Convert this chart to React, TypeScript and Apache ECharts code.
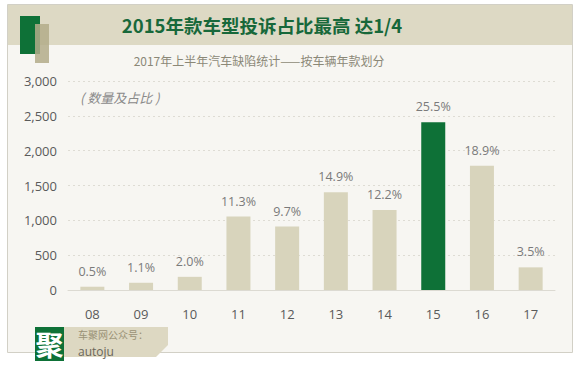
import React, { useEffect, useRef } from "react";
import * as echarts from "echarts";

const categories = ["08", "09", "10", "11", "12", "13", "14", "15", "16", "17"];
const counts = [47, 104, 189, 1055, 910, 1402, 1150, 2407, 1782, 325];
const shares = ["0.5%", "1.1%", "2.0%", "11.3%", "9.7%", "14.9%", "12.2%", "25.5%", "18.9%", "3.5%"];
const highlightIndex = 7;
const title = "2015年款车型投诉占比最高 达1/4";
const subtitle = "2017年上半年汽车缺陷统计——按车辆年款划分";
const unitNote = "( 数量及占比 )";

const GREEN = "#0e7137";
const TAN = "#d8d4bc";

export default function App() {
  const ref = useRef<HTMLDivElement>(null);
  useEffect(() => {
    if (!ref.current) return;
    const chart = echarts.init(ref.current, null, { renderer: "svg" });
    chart.setOption({
      animation: false,
      backgroundColor: "#ffffff",
      grid: { left: 68, right: 25, top: 81, bottom: 81 },
      xAxis: {
        type: "category",
        data: categories,
        axisLine: { lineStyle: { color: "#dcdad2", width: 1 } },
        axisTick: { show: false },
        axisLabel: { color: "#5a5a5a", fontSize: 13, margin: 17, fontFamily: "Open Sans" },
      },
      yAxis: {
        type: "value",
        min: 0,
        max: 3000,
        interval: 500,
        axisLine: { show: false },
        axisTick: { show: false },
        axisLabel: {
          color: "#5a5a5a",
          fontSize: 13,
          margin: 11,
          fontFamily: "Open Sans",
          formatter: (v: number) => v.toLocaleString("en-US"),
        },
        splitLine: { lineStyle: { color: "#dedcd4", type: [2, 3], width: 1 } },
      },
      series: [
        {
          type: "bar",
          barWidth: 24,
          data: counts.map((v, i) => ({
            value: v,
            itemStyle: { color: i === highlightIndex ? GREEN : TAN },
          })),
          label: {
            show: true,
            position: "top",
            distance: 9,
            color: "#7a7a7a",
            fontSize: 12.5,
            fontFamily: "Open Sans",
            formatter: (p: any) => shares[p.dataIndex],
          },
        },
      ],
      graphic: [
        {
          type: "rect",
          z: -10,
          shape: { x: 7.5, y: 4.5, width: 565, height: 348 },
          style: { fill: "#f7f6f2", stroke: "#d2d0c6", lineWidth: 1 },
          silent: true,
        },
        {
          type: "rect",
          z: -9,
          shape: { x: 8, y: 5, width: 564, height: 40 },
          style: { fill: "#ddd9c4" },
          silent: true,
        },
        {
          type: "rect",
          shape: { x: 20, y: 16, width: 20, height: 38 },
          style: { fill: GREEN },
        },
        {
          type: "rect",
          shape: { x: 35, y: 24, width: 14, height: 39 },
          style: { fill: "#b3ab8a", opacity: 0.85 },
        },
        {
          type: "text",
          x: 262,
          y: 25,
          style: {
            text: title,
            fill: "#17683a",
            font: 'bold 18.5px "Noto Sans CJK SC", "Noto Sans", sans-serif',
            align: "center",
            verticalAlign: "middle",
          },
        },
        {
          type: "text",
          x: 259,
          y: 60,
          style: {
            text: subtitle,
            fill: "#8b8877",
            font: '12px "Noto Sans CJK SC", "Noto Sans", sans-serif',
            align: "center",
            verticalAlign: "middle",
          },
        },
        {
          type: "text",
          x: 80,
          y: 97,
          style: {
            text: unitNote,
            fill: "#8a8a8a",
            font: 'italic 13px "Noto Sans CJK SC", "Noto Sans", sans-serif',
            align: "left",
            verticalAlign: "middle",
          },
        },
        {
          type: "polygon",
          shape: { points: [[64, 327], [168, 327], [168, 345], [156, 357], [64, 357]] },
          style: { fill: "#ddd8c2" },
        },
        {
          type: "rect",
          shape: { x: 35, y: 327, width: 29, height: 34 },
          style: { fill: GREEN },
        },
        {
          type: "text",
          x: 49.5,
          y: 344,
          style: {
            text: "聚",
            fill: "#ffffff",
            font: 'bold 28px "Noto Sans CJK SC", sans-serif',
            align: "center",
            verticalAlign: "middle",
          },
        },
        {
          type: "text",
          x: 78,
          y: 334,
          style: {
            text: "车聚网公众号：",
            fill: "#9a9276",
            font: '10px "Noto Sans CJK SC", sans-serif',
            align: "left",
            verticalAlign: "middle",
          },
        },
        {
          type: "text",
          x: 78,
          y: 351,
          style: {
            text: "autoju",
            fill: "#6a6659",
            font: '12px "Open Sans", sans-serif',
            align: "left",
            verticalAlign: "middle",
          },
        },
      ],
    });
    return () => chart.dispose();
  }, []);
  return (
    <div
      ref={ref}
      style={{ position: "fixed", left: 0, top: 0, width: 580, height: 371 }}
    />
  );
}
